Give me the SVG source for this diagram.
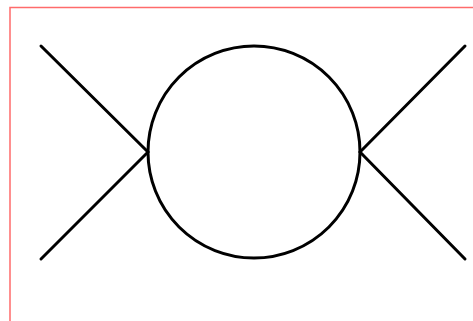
<svg xmlns="http://www.w3.org/2000/svg" width="473" height="321" viewBox="0 0 473 321">
<style>
.ln{fill:none;stroke:#000;stroke-width:3;stroke-linecap:round}
</style>
<rect x="0" y="0" width="473" height="321" fill="#fff"/>
<rect x="10" y="7.5" width="520" height="360" fill="none" stroke="#ff6b6b" stroke-width="1.5"/>
<g id="connectors">
<line class="ln" x1="41" y1="46" x2="148" y2="152"/>
<line class="ln" x1="41" y1="259" x2="148" y2="152"/>
<line class="ln" x1="465" y1="46" x2="360" y2="152"/>
<line class="ln" x1="465" y1="259" x2="360" y2="152"/>
</g>
<g id="loop">
<circle class="ln" cx="254" cy="152" r="106"/>
</g>
</svg>
